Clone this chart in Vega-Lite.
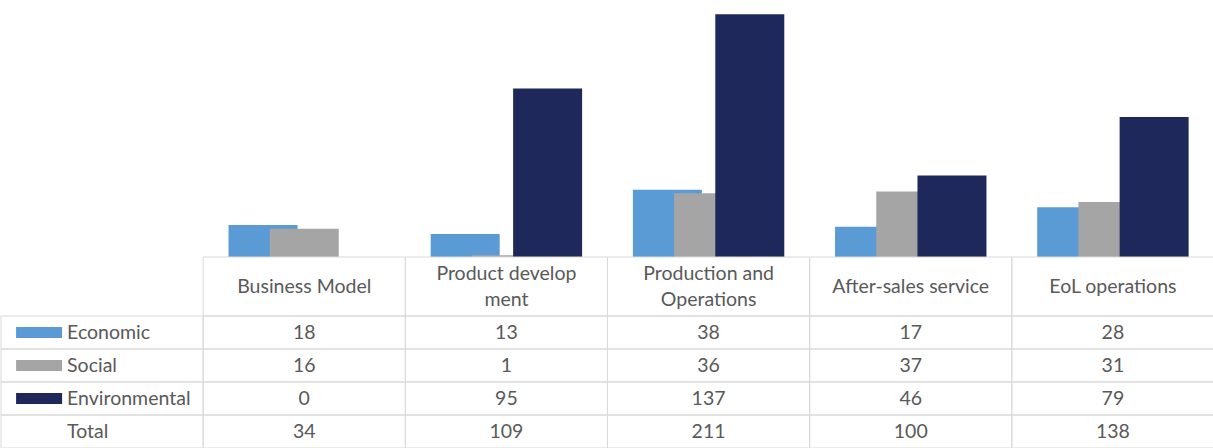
{
  "$schema": "https://vega.github.io/schema/vega-lite/v6.json",
  "padding": 0,
  "spacing": 0,
  "bounds": "flush",
  "config": {
    "view": {"stroke": null},
    "font": "Lato",
    "text": {"fontSize": 19.5, "color": "#595959", "font": "Lato"}
  },
  "datasets": {
    "values": [
      {"category": "Business Model", "series": "Economic", "value": 18},
      {"category": "Product development", "series": "Economic", "value": 13},
      {"category": "Production and Operations", "series": "Economic", "value": 38},
      {"category": "After-sales service", "series": "Economic", "value": 17},
      {"category": "EoL operations", "series": "Economic", "value": 28},
      {"category": "Business Model", "series": "Social", "value": 16},
      {"category": "Product development", "series": "Social", "value": 1},
      {"category": "Production and Operations", "series": "Social", "value": 36},
      {"category": "After-sales service", "series": "Social", "value": 37},
      {"category": "EoL operations", "series": "Social", "value": 31},
      {"category": "Business Model", "series": "Environmental", "value": 0},
      {"category": "Product development", "series": "Environmental", "value": 95},
      {"category": "Production and Operations", "series": "Environmental", "value": 137},
      {"category": "After-sales service", "series": "Environmental", "value": 46},
      {"category": "EoL operations", "series": "Environmental", "value": 79},
      {"category": "Business Model", "series": "Total", "value": 34},
      {"category": "Product development", "series": "Total", "value": 109},
      {"category": "Production and Operations", "series": "Total", "value": 211},
      {"category": "After-sales service", "series": "Total", "value": 100},
      {"category": "EoL operations", "series": "Total", "value": 138}
    ],
    "headers": [
      {"category": "Business Model", "label": "Business Model"},
      {"category": "Product development", "label": "Product develop\nment"},
      {"category": "Production and Operations", "label": "Production and\nOperations"},
      {"category": "After-sales service", "label": "After-sales service"},
      {"category": "EoL operations", "label": "EoL operations"}
    ],
    "rows": [
      {"category": "Series", "series": "Economic"},
      {"category": "Series", "series": "Social"},
      {"category": "Series", "series": "Environmental"},
      {"category": "Series", "series": "Total"}
    ]
  },
  "vconcat": [
    {
      "width": 1213,
      "height": 257,
      "data": {"name": "values"},
      "transform": [{"filter": "datum.series !== 'Total'"}],
      "mark": {"type": "bar", "width": 69},
      "encoding": {
        "x": {"field": "category", "type": "nominal", "axis": null,
          "scale": {"domain": ["Series", "Business Model", "Product development", "Production and Operations", "After-sales service", "EoL operations"], "paddingInner": 0, "paddingOuter": 0}},
        "xOffset": {"field": "series", "type": "nominal",
          "scale": {"type": "band", "domain": ["Economic", "Social", "Environmental"], "paddingInner": 0, "paddingOuter": 0.953}},
        "y": {"field": "value", "type": "quantitative", "axis": null, "stack": null,
          "scale": {"domain": [0, 145], "nice": false, "zero": true}},
        "color": {"field": "series", "type": "nominal", "legend": null,
          "scale": {"domain": ["Economic", "Social", "Environmental"], "range": ["#5B9BD5", "#A5A5A5", "#1F285A"]}}
      }
    },
    {
      "width": 1213,
      "height": 59,
      "data": {"name": "headers"},
      "encoding": {
        "x": {"field": "category", "type": "nominal", "axis": null,
          "scale": {"domain": ["Series", "Business Model", "Product development", "Production and Operations", "After-sales service", "EoL operations"], "paddingInner": 0, "paddingOuter": 0}}
      },
      "layer": [
        {
          "mark": {"type": "rect", "fill": "transparent", "stroke": "#D9D9D9", "strokeWidth": 1, "width": {"band": 1}}
        },
        {
          "transform": [{"filter": "indexof(datum.label, '\\n') < 0"}],
          "mark": {"type": "text"},
          "encoding": {"text": {"field": "label"}}
        },
        {
          "transform": [{"filter": "indexof(datum.label, '\\n') >= 0"}],
          "mark": {"type": "text", "lineBreak": "\n", "lineHeight": 26, "dy": -13},
          "encoding": {"text": {"field": "label"}}
        }
      ]
    },
    {
      "width": 1213,
      "height": 132,
      "encoding": {
        "x": {"field": "category", "type": "nominal", "axis": null,
          "scale": {"domain": ["Series", "Business Model", "Product development", "Production and Operations", "After-sales service", "EoL operations"], "paddingInner": 0, "paddingOuter": 0}},
        "y": {"field": "series", "type": "nominal", "axis": null,
          "scale": {"domain": ["Economic", "Social", "Environmental", "Total"], "paddingInner": 0, "paddingOuter": 0}}
      },
      "layer": [
        {
          "data": {"name": "values"},
          "mark": {"type": "rect", "fill": "transparent", "stroke": "#D9D9D9", "strokeWidth": 1, "width": {"band": 1}, "height": {"band": 1}}
        },
        {
          "data": {"name": "rows"},
          "mark": {"type": "rect", "fill": "transparent", "stroke": "#D9D9D9", "strokeWidth": 1, "width": {"band": 1}, "height": {"band": 1}}
        },
        {
          "data": {"name": "values"},
          "mark": {"type": "text"},
          "encoding": {"text": {"field": "value", "type": "quantitative"}}
        },
        {
          "data": {"name": "rows"},
          "transform": [{"filter": "datum.series !== 'Total'"}],
          "mark": {"type": "rect", "width": 46, "height": 11, "xOffset": -63},
          "encoding": {
            "color": {"field": "series", "type": "nominal", "legend": null,
              "scale": {"domain": ["Economic", "Social", "Environmental"], "range": ["#5B9BD5", "#A5A5A5", "#1F285A"]}}
          }
        },
        {
          "data": {"name": "rows"},
          "mark": {"type": "text", "align": "left", "dx": -35},
          "encoding": {"text": {"field": "series"}}
        }
      ]
    }
  ]
}
